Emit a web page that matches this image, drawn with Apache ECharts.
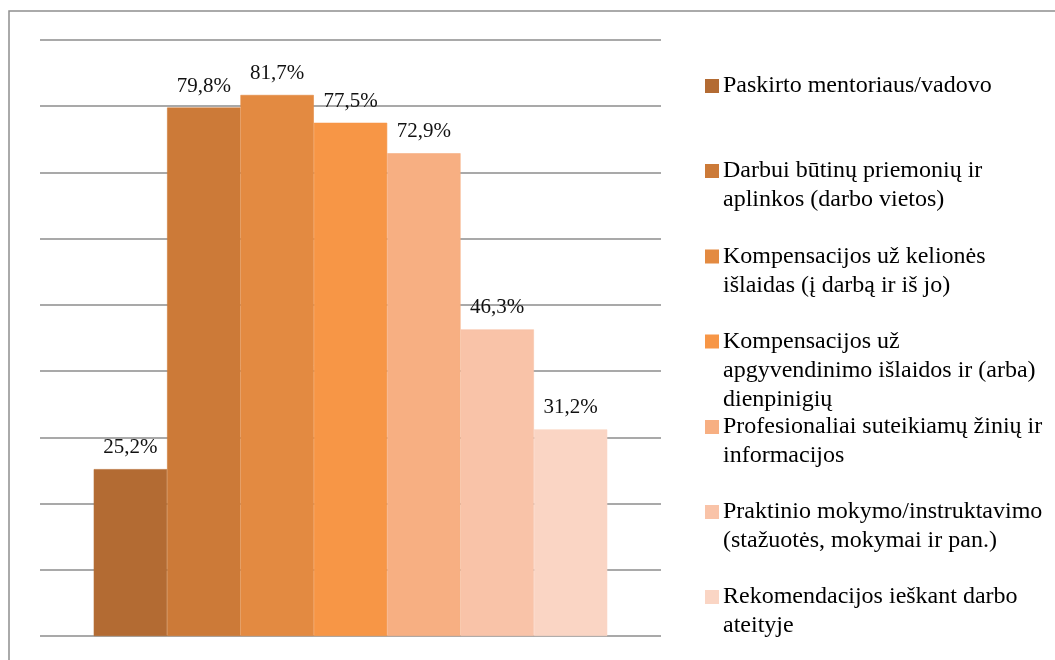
<!DOCTYPE html>
<html>
<head>
<meta charset="utf-8">
<script src="https://cdn.jsdelivr.net/npm/echarts@6/dist/echarts.min.js"></script>
<style>
  html, body { margin: 0; padding: 0; background: #fff; }
  #chart { width: 1055px; height: 660px; }
</style>
</head>
<body>
<div id="chart"></div>
<script>
// kategorijos (serijų pavadinimai) ir reikšmės, %
const names = [
  'Paskirto mentoriaus/vadovo',
  'Darbui būtinų priemonių ir aplinkos (darbo vietos)',
  'Kompensacijos už kelionės išlaidas (į darbą ir iš jo)',
  'Kompensacijos už apgyvendinimo išlaidos ir (arba) dienpinigių',
  'Profesionaliai suteikiamų žinių ir informacijos',
  'Praktinio mokymo/instruktavimo (stažuotės, mokymai ir pan.)',
  'Rekomendacijos ieškant darbo ateityje'
]
const legendLines = [
  ['Paskirto mentoriaus/vadovo'],
  ['Darbui būtinų priemonių ir', 'aplinkos (darbo vietos)'],
  ['Kompensacijos už kelionės', 'išlaidas (į darbą ir iš jo)'],
  ['Kompensacijos už', 'apgyvendinimo išlaidos ir (arba)', 'dienpinigių'],
  ['Profesionaliai suteikiamų žinių ir', 'informacijos'],
  ['Praktinio mokymo/instruktavimo', '(stažuotės, mokymai ir pan.)'],
  ['Rekomendacijos ieškant darbo', 'ateityje']
]
const values = [25.2, 79.8, 81.7, 77.5, 72.9, 46.3, 31.2]
const colors = ['#B36B33', '#CC7A38', '#E38A41', '#F79646', '#F7AF82', '#F9C3A8', '#FAD5C4']

const serif = "'Times New Roman', 'Liberation Serif', serif"
const lineH = 29
// legendos elementų pirmos eilutės centrai
const legendCenters = [86, 171, 256.5, 341.5, 427, 512, 597]

const chart = echarts.init(document.getElementById('chart'))

// tuščios eilutės viršuje, kad ženkliukas būtų ties pirma eilute
const legends = names.map((name, i) => {
  const n = legendLines[i].length
  const blank = new Array(n - 1).fill(' ')
  return {
    data: [name],
    orient: 'vertical',
    left: 705,
    top: legendCenters[i] - (2 * n - 1) * lineH / 2,
    padding: 0,
    itemWidth: 12,
    itemHeight: 12,
    itemGap: 0,
    icon: 'rect',
    selectedMode: false,
    formatter: () => blank.concat(legendLines[i]).join('\n'),
    textStyle: {
      fontFamily: serif,
      fontSize: 24,
      color: '#000',
      lineHeight: lineH
    }
  }
})

const series = names.map((name, i) => ({
  name: name,
  type: 'bar',
  barGap: '0%',
  barCategoryGap: '17.3%',
  data: [values[i]],
  itemStyle: { color: colors[i], borderColor: colors[i], borderWidth: 0.6 },
  label: {
    show: true,
    position: 'top',
    distance: 11,
    fontFamily: serif,
    fontSize: 21,
    color: '#111',
    formatter: (p) => p.value.toFixed(1).replace('.', ',') + '%'
  }
}))

const option = {
  animation: false,
  backgroundColor: '#fff',
  grid: { left: 40, right: 394, top: 40, bottom: 24, containLabel: false },
  xAxis: {
    type: 'category',
    data: [''],
    axisLine: { show: false },
    axisTick: { show: false },
    axisLabel: { show: false }
  },
  yAxis: {
    type: 'value',
    min: 0,
    max: 90,
    interval: 10,
    axisLabel: { show: false },
    axisLine: { show: false },
    axisTick: { show: false },
    splitLine: { lineStyle: { color: '#8c8c8c', width: 1.5 } }
  },
  legend: legends,
  series: series,
  graphic: [{
    type: 'rect',
    shape: { x: 9, y: 11, width: 1100, height: 700 },
    style: { fill: 'none', stroke: '#8f8f8f', lineWidth: 1.5 },
    silent: true,
    z: -1
  }]
}

chart.setOption(option)
</script>
</body>
</html>
